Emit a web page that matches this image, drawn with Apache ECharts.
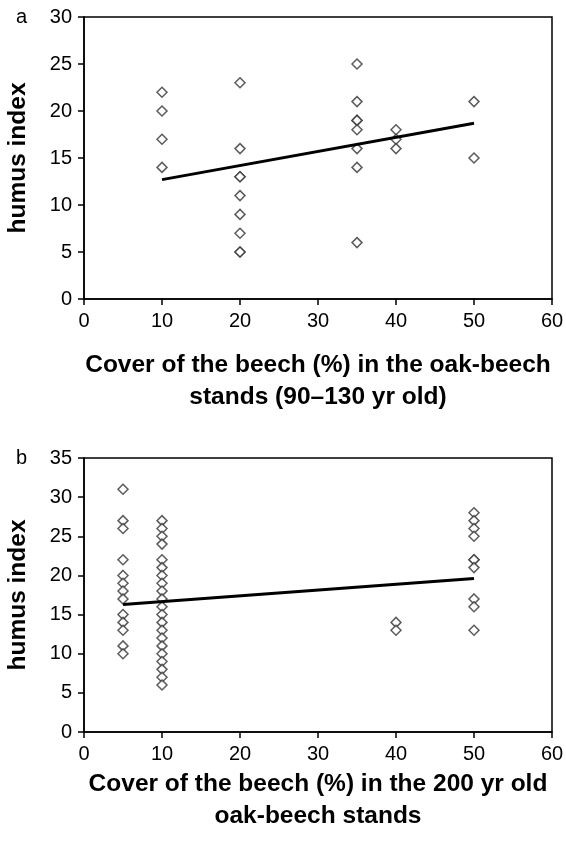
<!DOCTYPE html>
<html>
<head>
<meta charset="utf-8">
<script src="https://cdn.jsdelivr.net/npm/echarts@6/dist/echarts.min.js"></script>
<style>html,body{margin:0;padding:0;background:#fff}#c{width:566px;height:843px}</style>
</head>
<body>
<div id="c"></div>
<script>
// Panel a: oak-beech stands 90–130 yr old
const coverA = [10, 20, 35, 40, 50];
const humusA = [
  [22, 20, 17, 14],
  [23, 16, 13, 13, 11, 9, 7, 5, 5],
  [25, 21, 19, 19, 18, 16, 14, 6],
  [18, 17, 16],
  [21, 15]
];
const trendA = [[10, 12.7], [50, 18.7]];

// Panel b: 200 yr old oak-beech stands
const coverB = [5, 10, 40, 50];
const humusB = [
  [31, 27, 26, 22, 20, 19, 18, 17, 15, 14, 13, 11, 10],
  [27, 26, 25, 24, 22, 21, 20, 19, 18, 17, 16, 15, 14, 13, 12, 11, 10, 9, 8, 7, 6],
  [14, 13],
  [28, 27, 26, 25, 22, 22, 21, 17, 16, 13]
];
const trendB = [[5, 16.3], [50, 19.6]];

const xTicks = [0, 10, 20, 30, 40, 50, 60];
const yTicksA = [0, 5, 10, 15, 20, 25, 30];
const yTicksB = [0, 5, 10, 15, 20, 25, 30, 35];

function pts(xs, ys) {
  const out = [];
  xs.forEach((x, i) => ys[i].forEach(y => out.push([x, y])));
  return out;
}

const FONT = 'Liberation Sans, Arial, sans-serif';
const tickFs = 20, nameFs = 24.5;

function xAxis(gi, name, gap) {
  return {
    gridIndex: gi, type: 'value', min: xTicks[0], max: xTicks[xTicks.length - 1], interval: 10,
    axisLine: { show: true, onZero: false, lineStyle: { color: '#000', width: 1.5 } },
    axisTick: { show: true, inside: false, length: 6, lineStyle: { color: '#000', width: 1.5 } },
    axisLabel: { color: '#000', fontSize: tickFs, fontFamily: FONT, margin: 12 },
    splitLine: { show: false },
    name: name, nameLocation: 'middle', nameGap: gap,
    nameTextStyle: { color: '#000', fontSize: nameFs, fontWeight: 'bold', fontFamily: FONT, lineHeight: 32 }
  };
}
function yAxis(gi, ticks) {
  return {
    gridIndex: gi, type: 'value', min: ticks[0], max: ticks[ticks.length - 1], interval: 5,
    axisLine: { show: true, onZero: false, lineStyle: { color: '#000', width: 1.5 } },
    axisTick: { show: true, inside: false, length: 6, lineStyle: { color: '#000', width: 1.5 } },
    axisLabel: { color: '#000', fontSize: tickFs, fontFamily: FONT, margin: 12 },
    splitLine: { show: false },
    name: 'humus index', nameLocation: 'middle', nameGap: 53, nameRotate: 90,
    nameTextStyle: { color: '#000', fontSize: nameFs, fontWeight: 'bold', fontFamily: FONT }
  };
}
const scatterStyle = {
  symbol: 'diamond', symbolSize: [10, 10],
  itemStyle: { color: '#fff', borderColor: '#333', borderWidth: 1.5 }
};

const chart = echarts.init(document.getElementById('c'), null, { renderer: 'canvas' });
chart.setOption({
  animation: false,
  backgroundColor: '#fff',
  grid: [
    { left: 84, top: 17, width: 468, height: 282, outerBoundsMode: 'none', containLabel: false, show: true, borderColor: '#000', borderWidth: 1.5, backgroundColor: 'transparent' },
    { left: 84, top: 458, width: 468, height: 274, outerBoundsMode: 'none', containLabel: false, show: true, borderColor: '#000', borderWidth: 1.5, backgroundColor: 'transparent' }
  ],
  xAxis: [
    xAxis(0, 'Cover of the beech (%) in the oak-beech\nstands (90–130 yr old)', 50),
    xAxis(1, 'Cover of the beech (%) in the 200 yr old\noak-beech stands', 36)
  ],
  yAxis: [yAxis(0, yTicksA), yAxis(1, yTicksB)],
  graphic: [
    { type: 'text', left: 16, top: 7, style: { text: 'a', fontSize: tickFs, fontFamily: FONT, fill: '#000' } },
    { type: 'text', left: 16, top: 448, style: { text: 'b', fontSize: tickFs, fontFamily: FONT, fill: '#000' } }
  ],
  series: [
    Object.assign({ type: 'scatter', xAxisIndex: 0, yAxisIndex: 0, data: pts(coverA, humusA), z: 2 }, scatterStyle),
    { type: 'line', xAxisIndex: 0, yAxisIndex: 0, data: trendA, showSymbol: false, symbol: 'none', lineStyle: { color: '#000', width: 3 }, z: 3 },
    Object.assign({ type: 'scatter', xAxisIndex: 1, yAxisIndex: 1, data: pts(coverB, humusB), z: 2 }, scatterStyle),
    { type: 'line', xAxisIndex: 1, yAxisIndex: 1, data: trendB, showSymbol: false, symbol: 'none', lineStyle: { color: '#000', width: 3 }, z: 3 }
  ]
});
</script>
</body>
</html>
